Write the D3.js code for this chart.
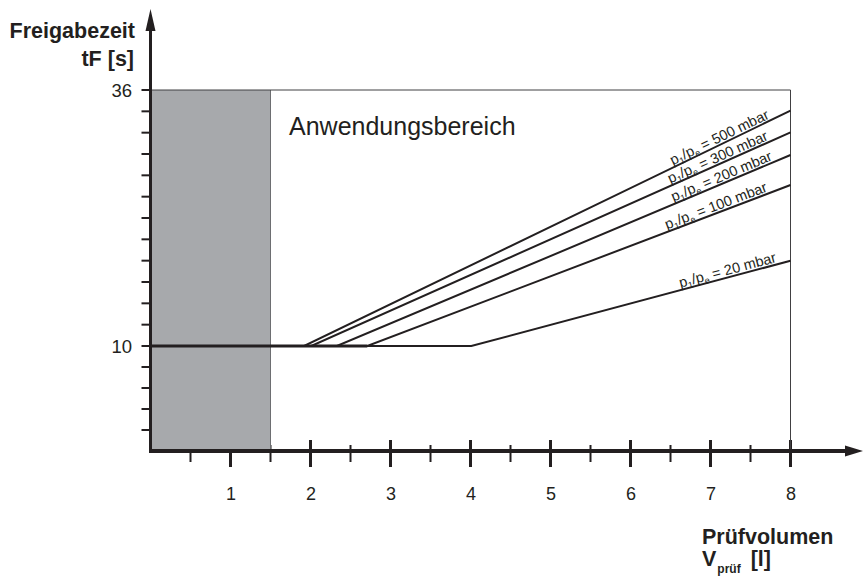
<!DOCTYPE html>
<html>
<head>
<meta charset="utf-8">
<script src="https://cdn.jsdelivr.net/npm/d3@7/dist/d3.min.js"></script>
<style>
  html, body { margin: 0; padding: 0; background: #fff; }
  svg { display: block; font-family: "Liberation Sans", Arial, Helvetica, sans-serif; }
</style>
</head>
<body>
<svg id="chart" width="864" height="579"></svg>
<script>
// ---- data ----
const seriesNames = ["500", "300", "200", "100", "20"];      // p1/pe in mbar
const breakVolumes = [1.92, 2.01, 2.33, 2.71, 4.01];          // l, where tF leaves 10 s
const endTimes = [33.9, 31.7, 29.4, 26.35, 18.66];           // tF [s] at 8 l
const baseTime = 10;
const maxVolume = 8;
const xMajorTicks = [1, 2, 3, 4, 5, 6, 7, 8];
const xMinorTicks = [0.5, 1.5, 2.5, 3.5, 4.5, 5.5, 6.5, 7.5];
const yLabelTicks = [10, 36];
const rangeLimit = 1.5;   // end of the grey (excluded) region, l
const labelEnds = [770, 769, 773, 768, 777];

const ink = "#231f20";
const svg = d3.select("#chart");

const x = d3.scaleLinear().domain([0, 8]).range([150.5, 790.5]);
const y = d3.scaleLinear().domain([0, 10, 36]).range([451, 346, 90]);

// y minor ticks: 5 steps below 10, 12 steps between 10 and 36
const yTicks = d3.range(1, 6).map(i => i * 2)
  .concat(d3.range(1, 13).map(k => 10 + k * 26 / 12));

// ---- x ticks ----
const gx = svg.append("g");
gx.selectAll("line.major").data(xMajorTicks).join("line")
  .attr("x1", d => x(d)).attr("x2", d => x(d))
  .attr("y1", y(0) - 11).attr("y2", y(0) + 16)
  .attr("stroke", ink).attr("stroke-width", 3);
gx.selectAll("line.minor").data(xMinorTicks).join("line")
  .attr("x1", d => x(d)).attr("x2", d => x(d))
  .attr("y1", y(0) - 6).attr("y2", y(0) + 11)
  .attr("stroke", ink).attr("stroke-width", 2);
gx.selectAll("text").data(xMajorTicks).join("text")
  .attr("x", d => x(d) + 0.5).attr("y", 500)
  .attr("text-anchor", "middle")
  .attr("font-size", 18).attr("fill", ink)
  .text(d => d);

// ---- grey region ----
svg.append("rect")
  .attr("x", x(0)).attr("y", y(36))
  .attr("width", x(rangeLimit) - x(0)).attr("height", y(0) - y(36))
  .attr("fill", "#a7a9ac");
svg.append("line")
  .attr("x1", x(rangeLimit)).attr("x2", x(rangeLimit))
  .attr("y1", y(36)).attr("y2", y(0))
  .attr("stroke", "#6d6e71").attr("stroke-width", 1);

// ---- frame ----
svg.append("path")
  .attr("d", `M${x(0)},${y(36)}H${x(maxVolume)}V${y(0)}`)
  .attr("fill", "none").attr("stroke", "#414042").attr("stroke-width", 1);

svg.append("text")
  .attr("x", 289).attr("y", 135)
  .attr("font-size", 25).attr("fill", ink)
  .text("Anwendungsbereich");

// ---- curves ----
const line = d3.line().x(d => x(d[0])).y(d => y(d[1]));
const curves = seriesNames.map((n, i) => ({
  name: n, end: labelEnds[i],
  pts: [[0, baseTime], [breakVolumes[i], baseTime], [maxVolume, endTimes[i]]]
}));
// overlapped common segment appears heavier
svg.append("line")
  .attr("x1", x(0)).attr("x2", x(d3.max(breakVolumes.slice(0, 4))))
  .attr("y1", y(baseTime)).attr("y2", y(baseTime))
  .attr("stroke", ink).attr("stroke-width", 3.2);
svg.selectAll("path.curve").data(curves).join("path")
  .attr("class", "curve")
  .attr("d", d => line(d.pts))
  .attr("fill", "none").attr("stroke", ink).attr("stroke-width", 2)
  .attr("stroke-linejoin", "miter");

// labels along curves
const labels = svg.selectAll("text.lab").data(curves).join("text")
  .attr("class", "lab")
  .attr("font-size", 14.5).attr("fill", ink)
  .attr("text-anchor", "end")
  .attr("transform", d => {
    const p0 = d.pts[1], p1 = d.pts[2];
    const ang = Math.atan2(y(p1[1]) - y(p0[1]), x(p1[0]) - x(p0[0])) * 180 / Math.PI;
    const ex = d.end;
    const t = (x.invert(ex) - p0[0]) / (p1[0] - p0[0]);
    const ey = y(p0[1] + t * (p1[1] - p0[1]));
    return `translate(${ex},${ey - 2.5}) rotate(${ang})`;
  });
labels.each(function(d) {
  const t = d3.select(this);
  t.append("tspan").text("p");
  t.append("tspan").attr("font-size", 9).attr("dy", 3).text("1");
  t.append("tspan").attr("dy", -3).text("/p");
  t.append("tspan").attr("font-size", 9).attr("dy", 3).text("e");
  t.append("tspan").attr("dy", -3).text(" = " + d.name + " mbar");
});

// ---- axes ----
svg.append("line")
  .attr("x1", x(0)).attr("x2", x(0)).attr("y1", 28).attr("y2", y(0) + 2)
  .attr("stroke", ink).attr("stroke-width", 3);
svg.append("line")
  .attr("x1", x(0) - 1.5).attr("x2", 848).attr("y1", y(0)).attr("y2", y(0))
  .attr("stroke", ink).attr("stroke-width", 4);
svg.append("path")
  .attr("d", `M${x(0)},9L${x(0) + 5},31L${x(0) - 5},31Z`).attr("fill", ink);
svg.append("path")
  .attr("d", `M863,${y(0)}L845,${y(0) - 5.5}L845,${y(0) + 5.5}Z`).attr("fill", ink);

// y ticks
svg.selectAll("line.yt").data(yTicks).join("line")
  .attr("x1", x(0) - 9).attr("x2", x(0))
  .attr("y1", d => y(d)).attr("y2", d => y(d))
  .attr("stroke", ink).attr("stroke-width", 2);
svg.selectAll("text.yl").data(yLabelTicks).join("text")
  .attr("x", 132).attr("y", d => y(d) + 6.5)
  .attr("text-anchor", "end").attr("font-size", 18.5).attr("fill", ink)
  .text(d => d);

// ---- axis titles ----
svg.append("text").attr("x", 135).attr("y", 38)
  .attr("text-anchor", "end").attr("font-size", 21.5).attr("font-weight", "bold").attr("fill", ink)
  .text("Freigabezeit");
svg.append("text").attr("x", 134).attr("y", 66)
  .attr("text-anchor", "end").attr("font-size", 21.5).attr("font-weight", "bold").attr("fill", ink)
  .text("tF [s]");
svg.append("text").attr("x", 702).attr("y", 544)
  .attr("font-size", 21.5).attr("font-weight", "bold").attr("fill", ink)
  .text("Prüfvolumen");
const vt = svg.append("text").attr("x", 702).attr("y", 566)
  .attr("font-size", 21.5).attr("font-weight", "bold").attr("fill", ink);
vt.append("tspan").text("V");
vt.append("tspan").attr("font-size", 12).attr("dy", 7).attr("dx", 1).text("prüf");
vt.append("tspan").attr("dy", -7).attr("dx", 10).text("[l]");
</script>
</body>
</html>
